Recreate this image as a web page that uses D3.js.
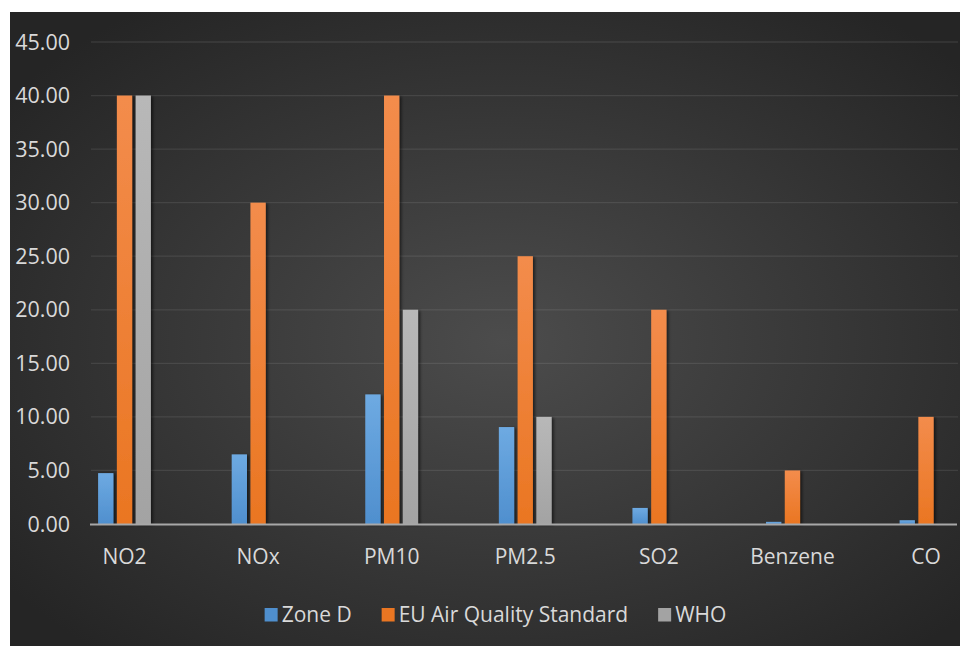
<!DOCTYPE html>
<html>
<head>
<meta charset="utf-8">
<script src="https://cdn.jsdelivr.net/npm/d3@7/dist/d3.min.js"></script>
<style>
  html, body { margin: 0; padding: 0; background: #ffffff; }
  svg { display: block; }
  text { font-family: "Open Sans", "Noto Sans", sans-serif; fill: #d9d9d9; }
</style>
</head>
<body>
<svg id="chart" width="960" height="646"></svg>
<script>
// Pollutant annual means versus limit values
const categories = ["NO2", "NOx", "PM10", "PM2.5", "SO2", "Benzene", "CO"];
const seriesNames = ["Zone D", "EU Air Quality Standard", "WHO"];
const zoneD = [4.75, 6.5, 12.1, 9.05, 1.5, 0.2, 0.35];
const euStandard = [40, 30, 40, 25, 20, 5, 10];
const who = [40, null, 20, 10, null, null, null];
const yTicks = [0, 5, 10, 15, 20, 25, 30, 35, 40, 45];

const seriesValues = [zoneD, euStandard, who];
const colors = {
  "Zone D": ["#6eaae2", "#4f8fce"],
  "EU Air Quality Standard": ["#f38c4c", "#ea7622"],
  "WHO": ["#b8b8b8", "#a3a3a3"]
};

const svg = d3.select("#chart");
const W = 960, H = 646;
const defs = svg.append("defs");

// dark radial background
const bg = defs.append("radialGradient").attr("id", "bgGrad")
  .attr("cx", "52%").attr("cy", "52%").attr("r", "65%");
bg.append("stop").attr("offset", "0%").attr("stop-color", "#4c4c4c");
bg.append("stop").attr("offset", "100%").attr("stop-color", "#252525");

seriesNames.forEach((s, i) => {
  const g = defs.append("linearGradient").attr("id", "bar" + i)
    .attr("x1", 0).attr("y1", 0).attr("x2", 0).attr("y2", 1);
  g.append("stop").attr("offset", "0%").attr("stop-color", colors[s][0]);
  g.append("stop").attr("offset", "100%").attr("stop-color", colors[s][1]);
});

const shadow = defs.append("filter").attr("id", "shadow")
  .attr("x", "-50%").attr("y", "-5%").attr("width", "200%").attr("height", "110%");
shadow.append("feDropShadow").attr("dx", 2).attr("dy", 1)
  .attr("stdDeviation", 1.4).attr("flood-color", "#000").attr("flood-opacity", 0.55);

svg.append("rect").attr("x", 10).attr("y", 12)
  .attr("width", W - 10).attr("height", H - 12)
  .attr("fill", "url(#bgGrad)");

// plot geometry
const plotLeft = 91, plotRight = 958;
const y = d3.scaleLinear().domain([0, 45]).range([524, 42]);
const x = d3.scalePoint().domain(categories).range([124.5, 926]);
const xInner = d3.scaleBand().domain(seriesNames).range([-26.4, 26.4]).paddingInner(0.184);

// gridlines
svg.append("g").selectAll("line")
  .data(yTicks.filter(t => t > 0))
  .join("line")
  .attr("x1", plotLeft).attr("x2", plotRight)
  .attr("y1", d => y(d)).attr("y2", d => y(d))
  .attr("stroke", "#ffffff").attr("stroke-opacity", 0.09).attr("stroke-width", 1.3);

// y tick labels
svg.append("g").selectAll("text")
  .data(yTicks)
  .join("text")
  .attr("x", 70).attr("y", d => y(d))
  .attr("dy", "0.35em")
  .attr("text-anchor", "end")
  .attr("font-size", 21.5)
  .text(d => d3.format(".2f")(d));

// bars
const flat = [];
categories.forEach((c, ci) => {
  seriesNames.forEach((s, si) => {
    const v = seriesValues[si][ci];
    if (v != null) flat.push({ c, s, si, v });
  });
});

svg.append("g").selectAll("rect")
  .data(flat)
  .join("rect")
  .attr("x", d => x(d.c) + xInner(d.s))
  .attr("width", xInner.bandwidth())
  .attr("y", d => y(d.v))
  .attr("height", d => y(0) - y(d.v))
  .attr("fill", d => "url(#bar" + d.si + ")")
  .attr("filter", "url(#shadow)");

// category axis line
svg.append("line")
  .attr("x1", 90).attr("x2", 957)
  .attr("y1", y(0) + 0.5).attr("y2", y(0) + 0.5)
  .attr("stroke", "#a8a8a8").attr("stroke-width", 2);

// category labels
svg.append("g").selectAll("text")
  .data(categories)
  .join("text")
  .attr("x", d => x(d)).attr("y", 563.5)
  .attr("text-anchor", "middle")
  .attr("font-size", 21)
  .text(d => d);

// legend, centred under the plot
const legend = svg.append("g");
let lx = 0;
seriesNames.forEach((s, i) => {
  const item = legend.append("g");
  item.append("rect").attr("x", lx).attr("y", 608)
    .attr("width", 13).attr("height", 13.5)
    .attr("fill", colors[s][1]);
  const t = item.append("text").attr("x", lx + 17).attr("y", 622)
    .attr("font-size", 21).text(s);
  lx += 17 + t.node().getComputedTextLength() + (i < seriesNames.length - 1 ? 30 : 0);
});
legend.attr("transform", `translate(${495.5 - lx / 2},0)`);
</script>
</body>
</html>
